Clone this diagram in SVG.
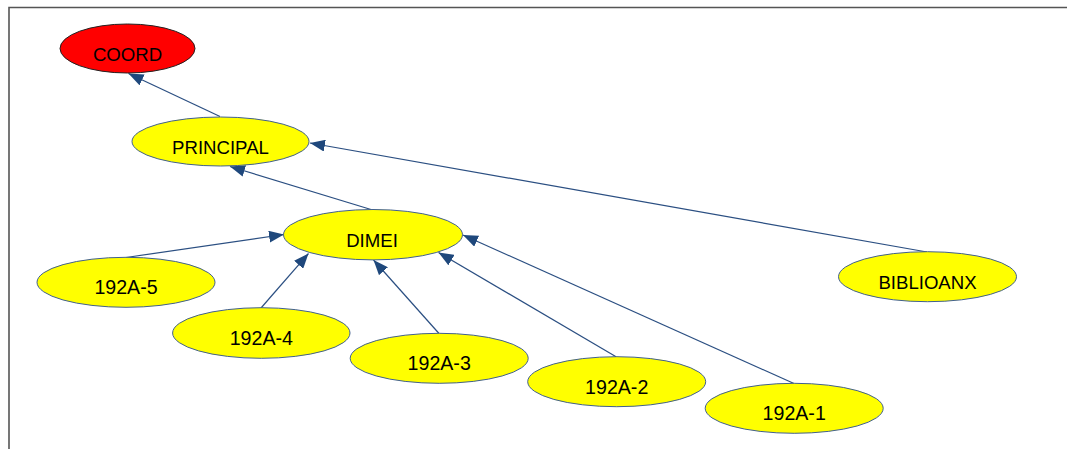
<svg xmlns="http://www.w3.org/2000/svg" width="1067" height="449" viewBox="0 0 1067 449">
<style>
.node ellipse{fill:#ffff00;stroke:#41608f;stroke-width:1}
#coord ellipse{fill:#ff0000;stroke:#222222}
.node text{font-family:"Liberation Sans",Arial,sans-serif;font-size:18.6px;fill:#000;text-anchor:middle}
.num text{font-size:19.6px}
#edges line{stroke:#2b4f82;stroke-width:1.2;fill:none;marker-end:url(#arr)}
.frame{stroke:#555555;stroke-width:1.6;fill:none}
</style>
<defs>
<marker id="arr" viewBox="0 0 15 12" refX="15" refY="6" markerWidth="15" markerHeight="12" markerUnits="userSpaceOnUse" orient="auto">
<path d="M0,0 L15,6 L0,12 z" fill="#1f487c"/>
</marker>
</defs>
<rect width="1067" height="449" fill="#ffffff"/>
<path class="frame" d="M9,449 V7.5 H1067"/>
<g id="edges">
<line x1="220" y1="116.5" x2="128.5" y2="73.5"/>
<line x1="371" y1="209.5" x2="230" y2="166.5"/>
<line x1="927" y1="252" x2="310" y2="143"/>
<line x1="126" y1="257.5" x2="284" y2="234.5"/>
<line x1="261" y1="308" x2="308.5" y2="253.5"/>
<line x1="439" y1="333.5" x2="373.5" y2="260"/>
<line x1="616.5" y1="357" x2="438.5" y2="252.5"/>
<line x1="794" y1="383.5" x2="463" y2="235"/>
</g>
<g id="coord" class="node"><ellipse cx="127.5" cy="48.5" rx="67.5" ry="24.5"/><text x="127.5" y="60.5">COORD</text></g>
<g id="principal" class="node"><ellipse cx="220.5" cy="141.5" rx="88.5" ry="24.5"/><text x="220.5" y="153.5">PRINCIPAL</text></g>
<g id="dimei" class="node"><ellipse cx="373" cy="234.7" rx="89.5" ry="25.2"/><text x="372" y="246.5">DIMEI</text></g>
<g id="biblioanx" class="node"><ellipse cx="927.5" cy="276.7" rx="89" ry="25"/><text x="927.5" y="288.5">BIBLIOANX</text></g>
<g id="n192a5" class="node num"><ellipse cx="126" cy="282.3" rx="89" ry="25"/><text x="126" y="294.3">192A-5</text></g>
<g id="n192a4" class="node num"><ellipse cx="261.3" cy="333" rx="88.7" ry="25.3"/><text x="261.3" y="345">192A-4</text></g>
<g id="n192a3" class="node num"><ellipse cx="439.2" cy="358.3" rx="89" ry="25"/><text x="439.2" y="370.3">192A-3</text></g>
<g id="n192a2" class="node num"><ellipse cx="616.7" cy="381.7" rx="89" ry="25"/><text x="616.7" y="393.7">192A-2</text></g>
<g id="n192a1" class="node num"><ellipse cx="794.2" cy="408.3" rx="89" ry="25"/><text x="794.2" y="420.3">192A-1</text></g>
</svg>
